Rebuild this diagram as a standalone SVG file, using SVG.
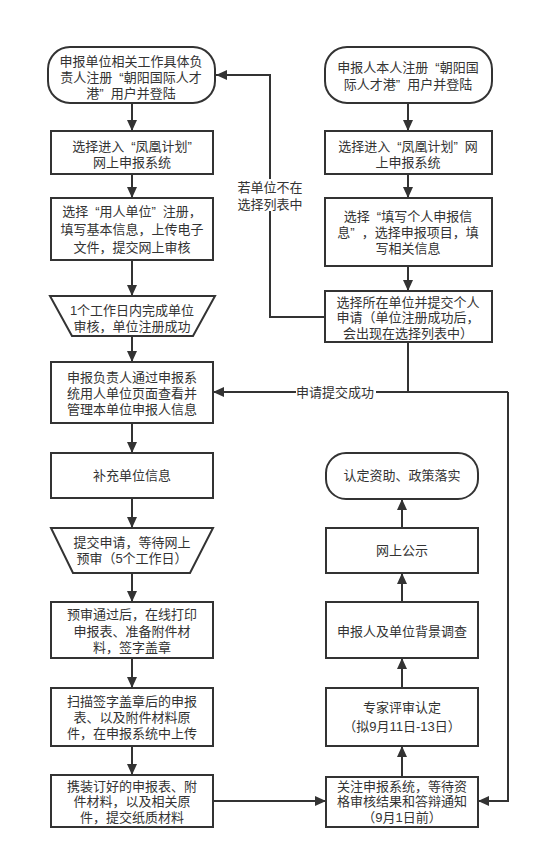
<svg xmlns="http://www.w3.org/2000/svg" width="540" height="859" viewBox="0 0 540 859">
<defs>
<style>
.b{fill:#fff;stroke:#333;stroke-width:2}
.t{font-family:"Liberation Sans","Noto Sans CJK SC",sans-serif;font-size:13px;fill:#333;text-anchor:middle}
.c{fill:none;stroke:#333;stroke-width:2}
.lb{fill:#fff;stroke:none}
</style>
<marker id="a" markerUnits="userSpaceOnUse" markerWidth="12" markerHeight="12" refX="11" refY="6" orient="auto">
<path d="M0,1 L11,6 L0,11 Z" fill="#333"/>
</marker>
</defs>
<rect width="540" height="859" fill="#fff"/>

<g id="connectors">
<line class="c" x1="132" y1="103" x2="132" y2="131" marker-end="url(#a)"/>
<line class="c" x1="132" y1="174" x2="132" y2="198" marker-end="url(#a)"/>
<line class="c" x1="132" y1="260" x2="132" y2="296" marker-end="url(#a)"/>
<line class="c" x1="132" y1="336" x2="132" y2="362" marker-end="url(#a)"/>
<line class="c" x1="132" y1="423" x2="132" y2="453" marker-end="url(#a)"/>
<line class="c" x1="132" y1="498" x2="132" y2="528" marker-end="url(#a)"/>
<line class="c" x1="132" y1="573" x2="132" y2="602" marker-end="url(#a)"/>
<line class="c" x1="132" y1="658" x2="132" y2="688" marker-end="url(#a)"/>
<line class="c" x1="132" y1="746" x2="132" y2="775" marker-end="url(#a)"/>
<line class="c" x1="408" y1="103" x2="408" y2="131" marker-end="url(#a)"/>
<line class="c" x1="408" y1="174" x2="408" y2="198" marker-end="url(#a)"/>
<line class="c" x1="408" y1="266" x2="408" y2="291" marker-end="url(#a)"/>
<line class="c" x1="402" y1="777" x2="402" y2="746" marker-end="url(#a)"/>
<line class="c" x1="402" y1="688" x2="402" y2="658" marker-end="url(#a)"/>
<line class="c" x1="402" y1="602" x2="402" y2="573" marker-end="url(#a)"/>
<line class="c" x1="402" y1="528" x2="402" y2="499" marker-end="url(#a)"/>
<line class="c" x1="213" y1="801" x2="326" y2="801" marker-end="url(#a)"/>
<polyline class="c" points="325,317 270,317 270,75 216,75" marker-end="url(#a)"/>
<line class="c" x1="408" y1="342" x2="408" y2="392"/>
<line class="c" x1="508" y1="392" x2="213" y2="392" marker-end="url(#a)"/>
<polyline class="c" points="508,392 508,801 478,801" marker-end="url(#a)"/>
<rect class="lb" x="236" y="179" width="68" height="32"/>
<text class="t" x="270" y="192">若单位不在</text>
<text class="t" x="270" y="209">选择列表中</text>
<rect class="lb" x="296" y="384" width="80" height="16"/>
<text class="t" x="335" y="397">申请提交成功</text>
</g>

<g id="n1">
<rect class="b" x="48" y="47" width="167" height="56" rx="22"/>
<text class="t" x="131" y="66">申报单位相关工作具体负</text>
<text class="t" x="131" y="82">责人注册<tspan dx="7">“</tspan>朝阳国际人才</text>
<text class="t" x="131" y="98">港”<tspan dx="7">用户并登陆</tspan></text>
</g>
<g id="n2">
<rect class="b" x="51" y="131" width="162" height="43"/>
<text class="t" x="132" y="151">选择进入<tspan dx="7">“</tspan>凤凰计划”</text>
<text class="t" x="132" y="167">网上申报系统</text>
</g>
<g id="n3">
<rect class="b" x="51" y="198" width="162" height="62"/>
<text class="t" x="132" y="216">选择<tspan dx="7">“</tspan>用人单位”<tspan dx="7">注册，</tspan></text>
<text class="t" x="132" y="234">填写基本信息，上传电子</text>
<text class="t" x="132" y="252">文件，提交网上审核</text>
</g>
<g id="n4">
<polygon class="b" points="50,296 215,296 193,336 72,336"/>
<text class="t" x="132" y="315">1个工作日内完成单位</text>
<text class="t" x="132" y="331">审核，单位注册成功</text>
</g>
<g id="n5">
<rect class="b" x="51" y="362" width="162" height="61"/>
<text class="t" x="132" y="382">申报负责人通过申报系</text>
<text class="t" x="132" y="398">统用人单位页面查看并</text>
<text class="t" x="132" y="414">管理本单位申报人信息</text>
</g>
<g id="n6">
<rect class="b" x="51" y="453" width="162" height="45"/>
<text class="t" x="132" y="480">补充单位信息</text>
</g>
<g id="n7">
<polygon class="b" points="51,528 213,528 190,573 73,573"/>
<text class="t" x="132" y="547">提交申请，等待网上</text>
<text class="t" x="132" y="563">预审（5个工作日）</text>
</g>
<g id="n8">
<rect class="b" x="51" y="602" width="162" height="56"/>
<text class="t" x="132" y="619">预审通过后，在线打印</text>
<text class="t" x="132" y="636">申报表、准备附件材</text>
<text class="t" x="132" y="652">料，签字盖章</text>
</g>
<g id="n9">
<rect class="b" x="51" y="688" width="162" height="58"/>
<text class="t" x="132" y="706">扫描签字盖章后的申报</text>
<text class="t" x="132" y="722">表、以及附件材料原</text>
<text class="t" x="132" y="738">件，在申报系统中上传</text>
</g>
<g id="n10">
<rect class="b" x="51" y="775" width="162" height="52"/>
<text class="t" x="132" y="791">携装订好的申报表、附</text>
<text class="t" x="132" y="806">件材料，以及相关原</text>
<text class="t" x="132" y="822">件，提交纸质材料</text>
</g>

<g id="r1">
<rect class="b" x="325" y="47" width="167" height="56" rx="22"/>
<text class="t" x="408" y="72">申报人本人注册<tspan dx="7">“</tspan>朝阳国</text>
<text class="t" x="408" y="89">际人才港”<tspan dx="7">用户并登陆</tspan></text>
</g>
<g id="r2">
<rect class="b" x="325" y="131" width="167" height="43"/>
<text class="t" x="408" y="151">选择进入<tspan dx="7">“</tspan>凤凰计划”<tspan dx="7">网</tspan></text>
<text class="t" x="408" y="167">上申报系统</text>
</g>
<g id="r3">
<rect class="b" x="325" y="198" width="167" height="68"/>
<text class="t" x="408" y="221">选择<tspan dx="7">“</tspan>填写个人申报信</text>
<text class="t" x="408" y="237">息”<tspan dx="7">，选择申报项目，填</tspan></text>
<text class="t" x="408" y="253">写相关信息</text>
</g>
<g id="r4">
<rect class="b" x="325" y="291" width="167" height="51"/>
<text class="t" x="408" y="307">选择所在单位并提交个人</text>
<text class="t" x="408" y="322">申请（单位注册成功后，</text>
<text class="t" x="408" y="338">会出现在选择列表中）</text>
</g>

<g id="f1">
<rect class="b" x="326" y="453" width="152" height="46" rx="20"/>
<text class="t" x="402" y="480">认定资助、政策落实</text>
</g>
<g id="f2">
<rect class="b" x="326" y="528" width="152" height="45"/>
<text class="t" x="402" y="555">网上公示</text>
</g>
<g id="f3">
<rect class="b" x="326" y="602" width="152" height="56"/>
<text class="t" x="402" y="636">申报人及单位背景调查</text>
</g>
<g id="f4">
<rect class="b" x="326" y="688" width="152" height="58"/>
<text class="t" x="402" y="712">专家评审认定</text>
<text class="t" x="402" y="731">（拟9月11日-13日）</text>
</g>
<g id="f5">
<rect class="b" x="326" y="777" width="152" height="50"/>
<text class="t" x="402" y="791">关注申报系统，等待资</text>
<text class="t" x="402" y="806">格审核结果和答辩通知</text>
<text class="t" x="402" y="822">（9月1日前）</text>
</g>
</svg>
